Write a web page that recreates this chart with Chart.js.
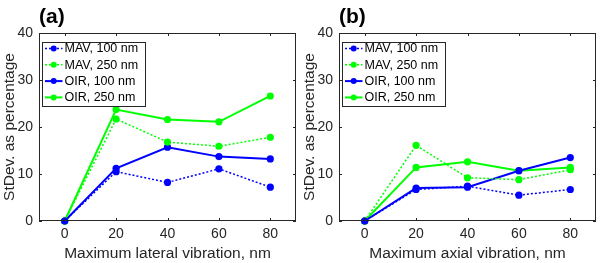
<!DOCTYPE html>
<html>
<head>
<meta charset="utf-8">
<script src="https://cdn.jsdelivr.net/npm/chart.js@4"></script>
<style>
html, body { margin: 0; padding: 0; background: #fff; }
#wrap { position: relative; width: 600px; height: 263px; }
canvas { position: absolute; top: 0; }
</style>
</head>
<body>
<div id="wrap">
  <canvas id="chartA" width="300" height="263" style="left:0"></canvas>
  <canvas id="chartB" width="300" height="263" style="left:300px"></canvas>
</div>
<script>
const xValues = [0, 20, 40, 60, 80];
const yTicks = [0, 10, 20, 30, 40];
const seriesNames = ['MAV, 100 nm', 'MAV, 250 nm', 'OIR, 100 nm', 'OIR, 250 nm'];

// panel (a) - lateral vibration
const lateralMav100 = [0, 10.5, 8.2, 11.1, 7.2];
const lateralMav250 = [0, 21.7, 16.8, 15.9, 17.8];
const lateralOir100 = [0, 11.2, 15.7, 13.7, 13.2];
const lateralOir250 = [0, 23.7, 21.6, 21.1, 26.6];

// panel (b) - axial vibration
const axialMav100 = [0, 6.7, 7.4, 5.5, 6.7];
const axialMav250 = [0, 16.1, 9.2, 8.8, 10.9];
const axialOir100 = [0, 7.0, 7.2, 10.7, 13.5];
const axialOir250 = [0, 11.4, 12.6, 10.7, 11.4];

const axisColor = '#262626';
const fontFamily = "'Liberation Sans', Arial, sans-serif";

//Draws the MATLAB style box with inward ticks
const boxTicks = {
    id: 'boxTicks',
    afterDatasetsDraw(chart) {
        const {ctx, chartArea: a, scales: {x, y}} = chart;
        ctx.save();
        ctx.strokeStyle = axisColor;
        ctx.lineWidth = 1;
        ctx.beginPath();
        x.ticks.forEach(t => {
            const px = Math.round(x.getPixelForValue(t.value)) + 0.5;
            ctx.moveTo(px, a.bottom); ctx.lineTo(px, a.bottom - 3);
            ctx.moveTo(px, a.top); ctx.lineTo(px, a.top + 3);
        });
        y.ticks.forEach(t => {
            const py = Math.round(y.getPixelForValue(t.value)) + 0.5;
            ctx.moveTo(a.left, py); ctx.lineTo(a.left + 3, py);
            ctx.moveTo(a.right, py); ctx.lineTo(a.right - 3, py);
        });
        ctx.stroke();
        ctx.strokeRect(a.left + 0.5, a.top + 0.5, a.width - 1, a.height - 1);
        ctx.restore();
    }
};

//Legend box in the upper left corner of the plot
const legendBox = {
    id: 'legendBox',
    afterDatasetsDraw(chart) {
        const {ctx, chartArea: a} = chart;
        const x0 = a.left + 3.5, y0 = a.top + 9.5;
        const w = 103, h = 64, rowH = 16.3;
        ctx.save();
        ctx.fillStyle = '#fff';
        ctx.fillRect(x0, y0, w, h);
        ctx.strokeStyle = axisColor;
        ctx.lineWidth = 1;
        ctx.strokeRect(x0, y0, w, h);
        chart.data.datasets.forEach((ds, i) => {
            const cy = y0 + 6 + rowH * i;
            ctx.strokeStyle = ds.borderColor;
            ctx.lineWidth = ds.borderWidth;
            ctx.setLineDash(ds.borderDash || []);
            ctx.beginPath();
            ctx.moveTo(x0 + 2.5, cy);
            ctx.lineTo(x0 + 20, cy);
            ctx.stroke();
            ctx.setLineDash([]);
            ctx.fillStyle = ds.backgroundColor;
            ctx.beginPath();
            ctx.arc(x0 + 11.2, cy, 3, 0, Math.PI * 2);
            ctx.fill();
            ctx.fillStyle = '#000';
            ctx.font = '12.5px ' + fontFamily;
            ctx.textBaseline = 'middle';
            ctx.fillText(ds.label, x0 + 22, cy + 0.5);
        });
        ctx.restore();
    }
};

function makePanel(id, panelLabel, xTitle, series) {
    const styles = [
        {color: '#0000ff', dash: [2, 2], width: 1.5},
        {color: '#00ff00', dash: [2, 2], width: 1.5},
        {color: '#0000ff', dash: [], width: 2},
        {color: '#00ff00', dash: [], width: 2}
    ];
    const datasets = series.map((vals, i) => ({
        label: seriesNames[i],
        data: vals.map((v, j) => ({x: xValues[j], y: v})),
        borderColor: styles[i].color,
        backgroundColor: styles[i].color,
        borderDash: styles[i].dash,
        borderWidth: styles[i].width,
        pointRadius: 3.6,
        pointBorderWidth: 0,
        clip: false
    }));

    return new Chart(document.getElementById(id), {
        type: 'line',
        data: {datasets},
        plugins: [boxTicks, legendBox],
        options: {
            responsive: false,
            animation: false,
            layout: {padding: {left: 0, right: 4, top: 0, bottom: 0}},
            plugins: {
                legend: {display: false},
                tooltip: {enabled: false},
                title: {
                    display: true,
                    text: panelLabel,
                    align: 'start',
                    fullSize: false,
                    color: '#000',
                    font: {family: fontFamily, size: 21, weight: 'bold'},
                    padding: {top: 5, bottom: 2.8}
                }
            },
            scales: {
                x: {
                    type: 'linear',
                    min: -10,
                    max: 90,
                    afterBuildTicks: s => { s.ticks = xValues.map(v => ({value: v})); },
                    afterFit: s => { s.height = 42; },
                    grid: {display: false, drawTicks: false},
                    border: {display: false},
                    ticks: {padding: 5, color: axisColor, font: {family: fontFamily, size: 14}},
                    title: {
                        display: true,
                        text: xTitle,
                        color: axisColor,
                        font: {family: fontFamily, size: 15.5},
                        padding: {top: 0, bottom: 0}
                    }
                },
                y: {
                    min: 0,
                    max: 40,
                    afterBuildTicks: s => { s.ticks = yTicks.map(v => ({value: v})); },
                    afterFit: s => { s.width = 39; },
                    grid: {display: false, drawTicks: false},
                    border: {display: false},
                    ticks: {padding: 6, color: axisColor, font: {family: fontFamily, size: 14}},
                    title: {
                        display: true,
                        text: 'StDev. as percentage',
                        color: axisColor,
                        font: {family: fontFamily, size: 15.5},
                        padding: {top: 0, bottom: 0}
                    }
                }
            }
        }
    });
}

makePanel('chartA', '(a)', 'Maximum lateral vibration, nm',
    [lateralMav100, lateralMav250, lateralOir100, lateralOir250]);
makePanel('chartB', '(b)', 'Maximum axial vibration, nm',
    [axialMav100, axialMav250, axialOir100, axialOir250]);
</script>
</body>
</html>
